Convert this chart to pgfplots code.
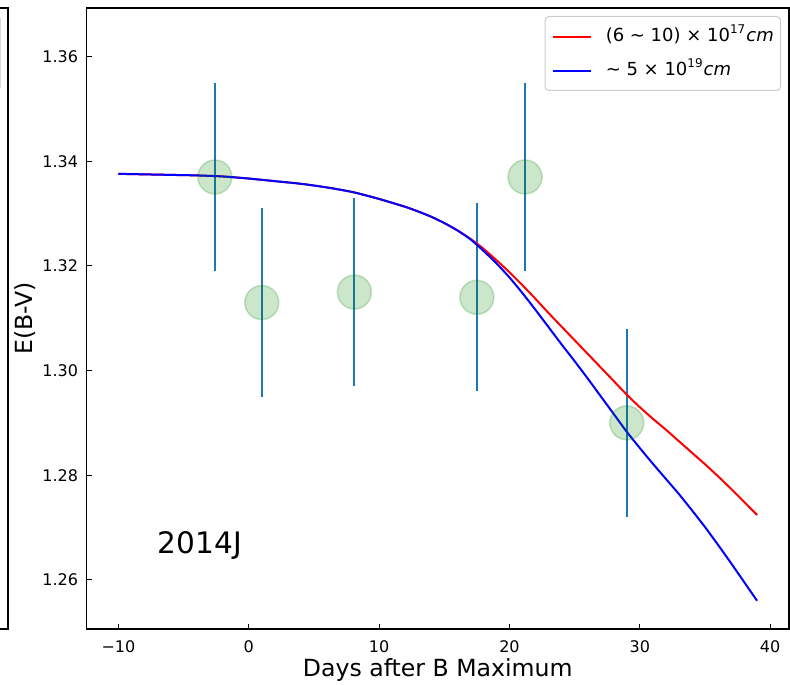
\documentclass[border=0pt]{standalone}
\usepackage{fontspec}
\setmainfont{DejaVu Sans}
\usepackage{pgfplots}
\pgfplotsset{compat=1.18}
\definecolor{mplred}{rgb}{1,0,0}
\definecolor{mplblue}{rgb}{0,0,1}
\definecolor{tabblue}{HTML}{1F77B4}
\definecolor{mplgreen}{rgb}{0,0.5,0}
\begin{document}
\begin{tikzpicture}
\useasboundingbox (-43.25pt,-27.5pt) rectangle (351.75pt,314.5pt);
\begin{axis}[
  at={(0pt,0pt)}, anchor=south west,
  scale only axis, width=351.25pt, height=310.5pt,
  xmin=-12.45, xmax=41.45, ymin=1.2506, ymax=1.3693,
  axis line style={line width=0.55pt, black},
  tick pos=left, tick align=inside,
  major tick length=2.5pt,
  tick style={line width=0.55pt, black},
  xtick={-10,0,10,20,30,40},
  xticklabels={−10,0,10,20,30,40},
  ytick={1.26,1.28,1.30,1.32,1.34,1.36},
  yticklabels={1.26,1.28,1.30,1.32,1.34,1.36},
  ticklabel style={font=\fontsize{8}{9.6}\selectfont, inner sep=0pt},
  yticklabel style={anchor=east, xshift=-4pt},
  xticklabel style={anchor=north, yshift=-5.5pt},
  xlabel={Days after B Maximum},
  ylabel={E(B-V)},
  xlabel style={at={([yshift=-23.5pt]axis description cs:0.5,0)}, anchor=base, font=\fontsize{11.8}{13.5}\selectfont, inner sep=0pt},
  ylabel style={at={([xshift=-26.75pt]axis description cs:0,0.5)}, anchor=base, rotate=0, font=\fontsize{11.8}{13.5}\selectfont, inner sep=0pt},
  legend style={at={(axis description cs:1,1)}, anchor=north east, xshift=-4pt, yshift=-4pt,
    draw=black!20, rounded corners=2pt, fill=white, line width=0.5pt,
    font=\fontsize{9}{10.8}\selectfont,
    inner xsep=3.35pt, inner ysep=6pt, row sep=9pt,
    nodes={inner sep=0pt, text height=6.5pt, text depth=1.5pt},
    /tikz/every odd column/.append style={column sep=7pt}},
  legend cell align=left,
  legend image code/.code={\draw[#1] (0pt,-0.5pt) -- (19pt,-0.5pt);},
  clip=false,
]
% marker circles
\addplot[only marks, mark=*, mark size=8.5pt, forget plot,
  mark options={fill=mplgreen, draw=mplgreen, fill opacity=0.2, draw opacity=0.2, line width=0.8pt}]
  coordinates {(-2.6,1.337) (1.0,1.313) (8.1,1.315) (17.5,1.314) (21.2,1.337) (29.0,1.290)};
% error bars
\addplot[draw=none, forget plot, mark=none,
  error bars/.cd, y dir=both, y explicit, error mark=none,
  error bar style={tabblue, line width=1pt}]
  coordinates {
  (-2.6,1.337) +- (0,0.018)
  (1.0,1.313) +- (0,0.018)
  (8.1,1.315) +- (0,0.018)
  (17.5,1.314) +- (0,0.018)
  (21.2,1.337) +- (0,0.018)
  (29.0,1.290) +- (0,0.018)
  };
\addplot[mplred, line width=1pt, mark=none, smooth, tension=0.4] coordinates {
(-10,1.3376) (-8,1.3375) (-6,1.3374) (-4,1.3373) (-2,1.3371) (0,1.3367) (2,1.3362)
(4,1.3357) (6,1.3350) (8,1.3341) (10,1.3328) (12,1.3313) (13,1.3304) (14,1.3294)
(15,1.3282) (16,1.3268) (17,1.3252) (18,1.3233) (19,1.3211) (20,1.3188) (21,1.3163)
(22,1.3137) (23,1.3110) (24,1.3084) (25,1.3058) (26,1.3032) (27,1.3006) (28,1.2980)
(29,1.2954) (30,1.2930) (31,1.2908) (32,1.2887) (33,1.2865) (34,1.2843) (35,1.2821)
(36,1.2798) (37,1.2774) (38,1.2749) (39,1.2724)};
\addlegendentry{(6 ∼ 10) × 10\textsuperscript{17}\textit{cm}}
\addplot[mplblue, line width=1pt, mark=none, smooth, tension=0.4] coordinates {
(-10,1.3376) (-8,1.3375) (-6,1.3374) (-4,1.3373) (-2,1.3371) (0,1.3367) (2,1.3362)
(4,1.3357) (6,1.3350) (8,1.3341) (10,1.3328) (12,1.3313) (13,1.3304) (14,1.3294)
(15,1.3282) (16,1.3268) (17,1.3251) (18,1.3229) (19,1.3205) (20,1.3178) (21,1.3148)
(22,1.3116) (23,1.3083) (24,1.3050) (25,1.3018) (26,1.2985) (27,1.2951) (28,1.2917)
(29,1.2883) (30,1.2852) (31,1.2822) (32,1.2793) (33,1.2764) (34,1.2733) (35,1.2701)
(36,1.2667) (37,1.2632) (38,1.2596) (39,1.2560)};
\addlegendentry{∼ 5 × 10\textsuperscript{19}\textit{cm}}
\node[anchor=base west, inner sep=0pt, font=\fontsize{14.8}{17}\selectfont] at (axis cs:-7,1.265) {2014J};
\end{axis}
% right edge of the neighbouring panel
\draw[line width=0.55pt, black] (-44pt,310.5pt) -- (-39.25pt,310.5pt) -- (-39.25pt,0pt) -- (-44pt,0pt);
\draw[line width=0.5pt, black!15] (-43pt,305.5pt) -- (-43pt,270.5pt);
\end{tikzpicture}
\end{document}
